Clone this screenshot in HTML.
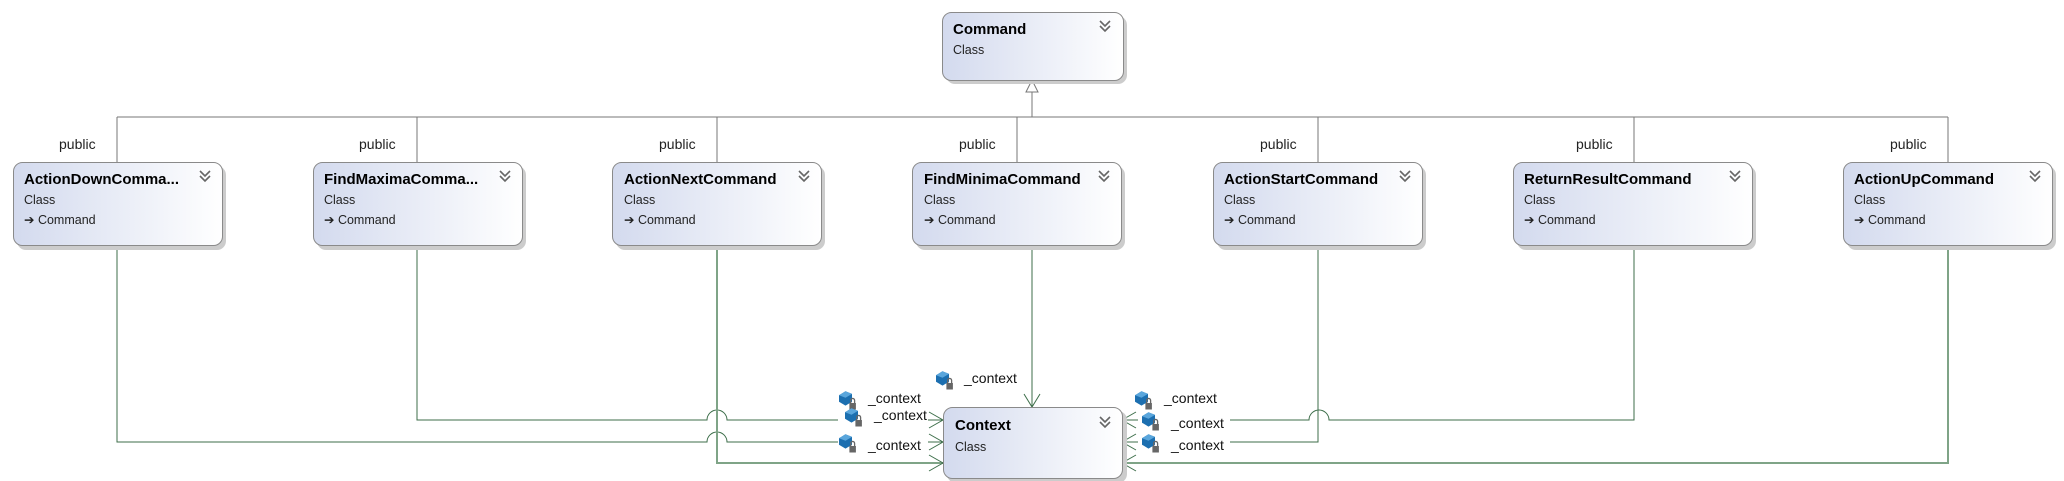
<!DOCTYPE html>
<html><head><meta charset="utf-8"><style>
html,body{margin:0;padding:0;background:#fff;}
svg{display:block;font-family:"Liberation Sans",sans-serif;}
.t{font-weight:bold;font-size:15px;fill:#000;}
.s{font-size:12.5px;fill:#222;}
.p{font-size:14px;fill:#222;}
.c{font-size:14px;fill:#111;}
</style></head><body>
<svg width="2064" height="481" viewBox="0 0 2064 481" xmlns="http://www.w3.org/2000/svg">
<defs>
<linearGradient id="g" x1="0" x2="1" y1="0" y2="0">
<stop offset="0" stop-color="#d3daee"/><stop offset="1" stop-color="#ffffff"/>
</linearGradient>
<g id="ico" transform="scale(1.3)">
<path d="M0 4 L5 1 L10 3 L10 9 L5 12 L0 9 Z" fill="#1c6fb0"/>
<path d="M0 4 L5 1 L10 3 L5 6 Z" fill="#5aa6dc"/>
<rect x="8" y="10" width="5" height="5" fill="#666"/>
<path d="M9 10 v-2 a1.5 1.5 0 0 1 3 0 v2" fill="none" stroke="#666" stroke-width="1"/>
</g>
<g id="chev" fill="none" stroke="#666" stroke-width="1.6">
<path d="M0 0 L5 5 L10 0"/><path d="M0 5 L5 10 L10 5"/>
</g>
</defs>

<g stroke="#777" stroke-width="1" fill="none">
<path d="M117 117 H1948"/>
<path d="M117 117 V162 M417 117 V162 M717 117 V162 M1017 117 V162 M1318 117 V162 M1634 117 V162 M1948 117 V162"/>
<path d="M1032 117 V92"/>
<path d="M1026 92 L1032 80 L1038 92 Z" fill="#fff"/>
</g>
<g class="p">
<text x="59" y="149">public</text>
<text x="359" y="149">public</text>
<text x="659" y="149">public</text>
<text x="959" y="149">public</text>
<text x="1260" y="149">public</text>
<text x="1576" y="149">public</text>
<text x="1890" y="149">public</text>
</g>

<g stroke="#3d6e4a" stroke-width="1" fill="none">
<path d="M1032 245 V407"/>
<path d="M417 245 V420 H707 A10 10 0 0 1 727 420 H943"/>
<path d="M117 245 V442 H707 A10 10 0 0 1 727 442 H943"/>
<path d="M717 245 V463 H943" stroke="#7fa487" stroke-width="2"/>
<path d="M1634 245 V420 H1329 A10 10 0 0 0 1309 420 H1122"/>
<path d="M1318 245 V442 H1122"/>
<path d="M1948 245 V463 H1122" stroke="#7fa487" stroke-width="2"/>
<path d="M1024 394 L1032 407 L1040 394"/>
<path d="M929 412 L943 420 L929 428 M929 434 L943 442 L929 450 M929 455 L943 463 L929 471"/>
<path d="M1136 412 L1122 420 L1136 428 M1136 434 L1122 442 L1136 450 M1136 455 L1122 463 L1136 471"/>
</g>

<g fill="#fff">
<rect x="838" y="411" width="90" height="16"/>
<rect x="838" y="434" width="90" height="17"/>
<rect x="1138" y="412" width="92" height="17"/>
<rect x="1138" y="434" width="92" height="17"/>
</g>
<use href="#ico" x="936" y="370"/><text class="c" x="964" y="383">_context</text>
<use href="#ico" x="839" y="390"/><text class="c" x="868" y="403">_context</text>
<use href="#ico" x="845" y="407"/><text class="c" x="874" y="420">_context</text>
<use href="#ico" x="839" y="433"/><text class="c" x="868" y="450">_context</text>
<use href="#ico" x="1135" y="390"/><text class="c" x="1164" y="403">_context</text>
<use href="#ico" x="1142" y="411"/><text class="c" x="1171" y="428">_context</text>
<use href="#ico" x="1142" y="433"/><text class="c" x="1171" y="450">_context</text>

<g>
<rect x="946" y="16" width="181" height="68" rx="9" fill="#ccc"/>
<rect x="942.5" y="12.5" width="181" height="68" rx="9" fill="url(#g)" stroke="#8a8a8a"/>
<text class="t" x="953" y="34">Command</text><text class="s" x="953" y="54">Class</text>
<use href="#chev" x="1100" y="21"/>

<rect x="947" y="411" width="180" height="72" rx="9" fill="#ccc"/>
<rect x="943.5" y="407.5" width="179" height="71" rx="9" fill="url(#g)" stroke="#8a8a8a"/>
<text class="t" x="955" y="430">Context</text><text class="s" x="955" y="451">Class</text>
<use href="#chev" x="1100" y="417"/>
</g>

<g>
<rect x="17" y="166" width="209" height="84" rx="9" fill="#ccc"/>
<rect x="13.5" y="162.5" width="209" height="83" rx="9" fill="url(#g)" stroke="#8a8a8a"/>
<text class="t" x="24" y="184">ActionDownComma...</text><text class="s" x="24" y="204">Class</text><text class="s" x="24" y="224">➔ Command</text>
<use href="#chev" x="200" y="171"/>

<rect x="317" y="166" width="209" height="84" rx="9" fill="#ccc"/>
<rect x="313.5" y="162.5" width="209" height="83" rx="9" fill="url(#g)" stroke="#8a8a8a"/>
<text class="t" x="324" y="184">FindMaximaComma...</text><text class="s" x="324" y="204">Class</text><text class="s" x="324" y="224">➔ Command</text>
<use href="#chev" x="500" y="171"/>

<rect x="616" y="166" width="209" height="84" rx="9" fill="#ccc"/>
<rect x="612.5" y="162.5" width="209" height="83" rx="9" fill="url(#g)" stroke="#8a8a8a"/>
<text class="t" x="624" y="184">ActionNextCommand</text><text class="s" x="624" y="204">Class</text><text class="s" x="624" y="224">➔ Command</text>
<use href="#chev" x="799" y="171"/>

<rect x="916" y="166" width="209" height="84" rx="9" fill="#ccc"/>
<rect x="912.5" y="162.5" width="209" height="83" rx="9" fill="url(#g)" stroke="#8a8a8a"/>
<text class="t" x="924" y="184">FindMinimaCommand</text><text class="s" x="924" y="204">Class</text><text class="s" x="924" y="224">➔ Command</text>
<use href="#chev" x="1099" y="171"/>

<rect x="1217" y="166" width="209" height="84" rx="9" fill="#ccc"/>
<rect x="1213.5" y="162.5" width="209" height="83" rx="9" fill="url(#g)" stroke="#8a8a8a"/>
<text class="t" x="1224" y="184">ActionStartCommand</text><text class="s" x="1224" y="204">Class</text><text class="s" x="1224" y="224">➔ Command</text>
<use href="#chev" x="1400" y="171"/>

<rect x="1517" y="166" width="239" height="84" rx="9" fill="#ccc"/>
<rect x="1513.5" y="162.5" width="239" height="83" rx="9" fill="url(#g)" stroke="#8a8a8a"/>
<text class="t" x="1524" y="184">ReturnResultCommand</text><text class="s" x="1524" y="204">Class</text><text class="s" x="1524" y="224">➔ Command</text>
<use href="#chev" x="1730" y="171"/>

<rect x="1847" y="166" width="209" height="84" rx="9" fill="#ccc"/>
<rect x="1843.5" y="162.5" width="209" height="83" rx="9" fill="url(#g)" stroke="#8a8a8a"/>
<text class="t" x="1854" y="184">ActionUpCommand</text><text class="s" x="1854" y="204">Class</text><text class="s" x="1854" y="224">➔ Command</text>
<use href="#chev" x="2030" y="171"/>
</g>
</svg>
</body></html>
